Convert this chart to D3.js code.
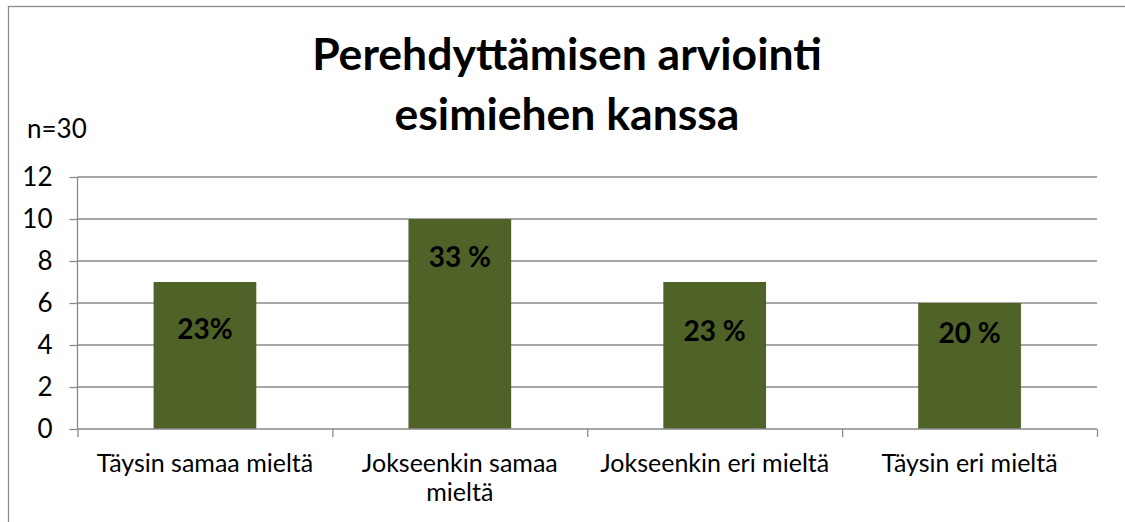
<!DOCTYPE html>
<html>
<head>
<meta charset="utf-8">
<script src="https://cdnjs.cloudflare.com/ajax/libs/d3/7.8.5/d3.min.js"></script>
<style>
	body { margin: 0; background: #fff; }
	svg text { font-family: Lato, "Open Sans", sans-serif; fill: #000; }
</style>
</head>
<body>
<script>
//chart data
var titleLines = ["Perehdyttämisen arviointi", "esimiehen kanssa"];
var sampleNote = "n=30";
var categories = ["Täysin samaa mieltä", "Jokseenkin samaa mieltä", "Jokseenkin eri mieltä", "Täysin eri mieltä"];
var counts = [7, 10, 7, 6];
var percentLabels = ["23%", "33 %", "23 %", "20 %"];
//where each hand placed label sits, in axis units
var labelAt = [4.3, 7.7, 4.2, 4.1];
var yTicks = [0, 2, 4, 6, 8, 10, 12];

var width = 1125,
	height = 522,
	plotLeft = 77.5,
	plotRight = 1097,
	plotTop = 177,
	plotBottom = 429;

var svg = d3.select("body")
	.append("svg")
	.attr("width", width)
	.attr("height", height);

//outer chart border, runs off the right and bottom
svg.append("rect")
	.attr("x", 8.5)
	.attr("y", 6.5)
	.attr("width", 1200)
	.attr("height", 600)
	.style("fill", "none")
	.style("stroke", "#8a8a8a")
	.style("stroke-width", 1.3);

var y = d3.scaleLinear()
	.domain([0, 12])
	.range([plotBottom, plotTop]);

var x = d3.scaleBand()
	.domain(categories)
	.range([plotLeft, plotRight])
	.paddingInner(0.597)
	.paddingOuter(0.2985);

//category boundaries for the x tick marks
var xEdges = d3.scaleLinear()
	.domain([0, categories.length])
	.range([plotLeft, plotRight]);

//gridlines
svg.append("g")
	.selectAll("line")
	.data(yTicks.filter(function(d){ return d > 0; }))
	.enter()
	.append("line")
	.attr("x1", plotLeft)
	.attr("x2", plotRight)
	.attr("y1", function(d){ return y(d); })
	.attr("y2", function(d){ return y(d); })
	.style("stroke", "#8a8a8a")
	.style("stroke-width", 1.3);

//bars
svg.append("g")
	.selectAll("rect")
	.data(counts)
	.enter()
	.append("rect")
	.attr("x", function(d, i){ return x(categories[i]); })
	.attr("width", x.bandwidth())
	.attr("y", function(d){ return y(d); })
	.attr("height", function(d){ return plotBottom - y(d); })
	.style("fill", "#4f6228");

//y axis
var yAxis = svg.append("g")
	.attr("transform", "translate(" + plotLeft + ",0)")
	.call(d3.axisLeft(y).tickValues(yTicks).tickSize(8).tickPadding(17).tickSizeOuter(0));
yAxis.select(".domain").remove();
yAxis.selectAll("line").style("stroke", "#8a8a8a").style("stroke-width", 1.3);
yAxis.selectAll("text")
	.style("font-size", "26px")
	.style("fill", "#000");

//vertical axis line
svg.append("line")
	.attr("x1", plotLeft)
	.attr("x2", plotLeft)
	.attr("y1", plotTop)
	.attr("y2", plotBottom)
	.style("stroke", "#8a8a8a")
	.style("stroke-width", 1.3);

//x axis
var xAxis = svg.append("g")
	.attr("transform", "translate(0," + plotBottom + ")")
	.call(d3.axisBottom(xEdges).ticks(categories.length).tickSize(8).tickFormat("").tickSizeOuter(0));
xAxis.select(".domain")
	.attr("d", "M" + plotLeft + ",0H" + plotRight)
	.style("stroke", "#8a8a8a")
	.style("stroke-width", 1.3);
xAxis.selectAll("line").style("stroke", "#8a8a8a").style("stroke-width", 1.3);

//category labels, wrapped to the band like the spreadsheet does
var catLabels = svg.append("g")
	.selectAll("text")
	.data(categories)
	.enter()
	.append("text")
	.attr("x", function(d){ return x(d) + x.bandwidth() / 2; })
	.attr("y", 472)
	.attr("text-anchor", "middle")
	.style("font-size", "25px")
	.each(function(d){ wrap(d3.select(this), d, xEdges(1) - xEdges(0) - 12); });

function wrap(textSel, str, maxWidth){
	var words = str.split(" "),
		line = [],
		tspan = textSel.append("tspan").attr("x", textSel.attr("x")).attr("dy", 0);
	words.forEach(function(w){
		line.push(w);
		tspan.text(line.join(" "));
		if (tspan.node().getComputedTextLength() > maxWidth && line.length > 1){
			line.pop();
			tspan.text(line.join(" "));
			line = [w];
			tspan = textSel.append("tspan")
				.attr("x", textSel.attr("x"))
				.attr("dy", 29)
				.text(w);
		}
	});
}

//percentage labels inside bars
svg.append("g")
	.selectAll("text")
	.data(percentLabels)
	.enter()
	.append("text")
	.attr("x", function(d, i){ return x(categories[i]) + x.bandwidth() / 2; })
	.attr("y", function(d, i){ return y(labelAt[i]); })
	.attr("text-anchor", "middle")
	.style("font-size", "28px")
	.style("font-weight", "bold")
	.text(function(d){ return d; });

//title
svg.append("g")
	.selectAll("text")
	.data(titleLines)
	.enter()
	.append("text")
	.attr("x", 567)
	.attr("y", function(d, i){ return 70 + i * 60; })
	.attr("text-anchor", "middle")
	.style("font-size", "44.5px")
	.style("font-weight", "bold")
	.text(function(d){ return d; });

svg.append("text")
	.attr("x", 27)
	.attr("y", 138)
	.style("font-size", "26px")
	.text(sampleNote);
</script>
</body>
</html>
